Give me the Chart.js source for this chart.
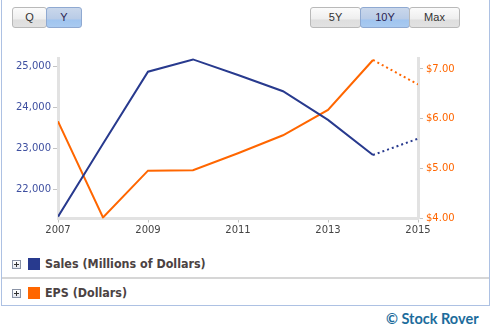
<!DOCTYPE html>
<html>
<head>
<meta charset="utf-8">
<script src="https://cdn.jsdelivr.net/npm/chart.js@4"></script>
<style>
  html, body { margin: 0; padding: 0; background: #fff; }
  body { width: 491px; height: 335px; position: relative; overflow: hidden; font-family: "DejaVu Sans", Verdana, sans-serif; }
  .panel { position: absolute; left: 1px; top: -1px; width: 487px; height: 306px; border: 1px solid #adc1e3; border-top: none; }
  #chart { position: absolute; left: 0; top: 0; }
  .btn { position: absolute; top: 7px; height: 21px; border: 1px solid #b9b9b9; border-radius: 3px; box-sizing: border-box;
         font: 11px "Liberation Sans", Arial, sans-serif; color: #333; text-align: center; line-height: 19px;
         background: linear-gradient(#fbfbfb 0%, #eeeeee 60%, #dedede 61%, #e2e2e2 100%); }
  .btn.on { border-color: #8fa9d1; background: linear-gradient(#c9d7eb 0%, #b8cbe6 60%, #9fc4ef 61%, #a9caf0 100%); color: #2a2250; }
  .row { position: absolute; left: 2px; width: 487px; height: 28px; }
  .sep { position: absolute; left: 2px; top: 277px; width: 487px; height: 2px; background: #d6d6d6; }
  .plus { position: absolute; left: 10px; top: 10px; width: 9px; height: 9px; box-sizing: border-box; border: 1px solid #8a93a6;
          background: linear-gradient(#ffffff, #e3e6ee); }
  .plus::before { content: ""; position: absolute; left: 1px; top: 3px; width: 5px; height: 1px; background: #333; }
  .plus::after { content: ""; position: absolute; left: 3px; top: 1px; width: 1px; height: 5px; background: #333; }
  .swatch { position: absolute; left: 26px; top: 8px; width: 12px; height: 12px; }
  .label { position: absolute; left: 43px; top: 6px; font: bold 12.4px "DejaVu Sans Condensed", "DejaVu Sans", sans-serif; color: #4b4242; white-space: nowrap; }
  .credit { position: absolute; left: 386px; top: 310px; font: bold 14.5px Lato, "Open Sans", sans-serif; color: #1c6c9c; white-space: nowrap; }
</style>
</head>
<body>
<div class="panel"></div>
<div class="btn" style="left:12px;width:35px">Q</div>
<div class="btn on" style="left:46px;width:36px">Y</div>
<div class="btn" style="left:310px;width:51px">5Y</div>
<div class="btn on" style="left:360px;width:50px">10Y</div>
<div class="btn" style="left:409px;width:51px">Max</div>

<canvas id="chart" width="491" height="245"></canvas>

<div class="row" style="top:250px"><div class="plus"></div><div class="swatch" style="background:#283a8e"></div><div class="label" id="lab-sales"></div></div>
<div class="sep"></div>
<div class="row" style="top:279px"><div class="plus"></div><div class="swatch" style="background:#ff6600"></div><div class="label" id="lab-eps"></div></div>
<div class="credit">© Stock Rover</div>

<script>
// annual figures, last year is an estimate (drawn dotted)
const years = [2007, 2008, 2009, 2010, 2011, 2012, 2013, 2014, 2015];
const sales = [21330, 23115, 24880, 25180, 24800, 24400, 23700, 22840, 23240];
const eps = [5.95, 4.02, 4.96, 4.97, 5.31, 5.67, 6.18, 7.18, 6.69];
const lastActualYear = 2014;

const salesTicks = [22000, 23000, 24000, 25000];
const epsTicks = [4, 5, 6, 7];
const yearTicks = [2007, 2009, 2011, 2013, 2015];

const seriesNames = ['Sales (Millions of Dollars)', 'EPS (Dollars)'];
const blue = '#283a8e';
const orange = '#ff6600';

document.getElementById('lab-sales').textContent = seriesNames[0];
document.getElementById('lab-eps').textContent = seriesNames[1];

const tickFont = { family: 'DejaVu Sans', size: 10 };
const axisBorder = { color: '#e2e2e2', width: 3 };

// dotted once the segment starts at the last reported year
const estimateDash = ctx => years[ctx.p0DataIndex] >= lastActualYear ? [2, 3] : undefined;

function points(values) {
    return years.map((y, i) => ({ x: y, y: values[i] }));
}

const ctx = document.getElementById('chart').getContext('2d');
const chart = new Chart(ctx, {
    type: 'line',
    data: {
        datasets: [
            {
                label: seriesNames[0],
                data: points(sales),
                yAxisID: 'ySales',
                borderColor: blue,
                borderWidth: 2,
                pointRadius: 0,
                tension: 0,
                segment: { borderDash: estimateDash }
            },
            {
                label: seriesNames[1],
                data: points(eps),
                yAxisID: 'yEps',
                borderColor: orange,
                borderWidth: 2,
                pointRadius: 0,
                tension: 0,
                segment: { borderDash: estimateDash }
            }
        ]
    },
    options: {
        responsive: false,
        animation: false,
        devicePixelRatio: 1,
        layout: { padding: { top: 58, left: 0, right: 0, bottom: 0 } },
        plugins: { legend: { display: false }, tooltip: { enabled: false } },
        scales: {
            x: {
                type: 'linear',
                min: 2007,
                max: 2015,
                afterBuildTicks: s => { s.ticks = yearTicks.map(v => ({ value: v })); },
                afterFit: s => { s.height = 26.5; },
                ticks: { callback: v => String(v), color: '#444', font: tickFont, padding: 2, maxRotation: 0 },
                grid: { drawOnChartArea: false, tickLength: 4, tickColor: '#c4c4c4' },
                border: axisBorder
            },
            ySales: {
                position: 'left',
                min: 21284,
                max: 25215,
                afterBuildTicks: s => { s.ticks = salesTicks.map(v => ({ value: v })); },
                afterFit: s => { s.width = 58; },
                ticks: { callback: v => v.toLocaleString('en-US'), color: '#3e4fa0', font: tickFont, padding: 2 },
                grid: { drawOnChartArea: false, tickLength: 5, tickColor: '#c4c4c4' },
                border: axisBorder
            },
            yEps: {
                position: 'right',
                min: 4,
                max: 7.22,
                afterBuildTicks: s => { s.ticks = epsTicks.map(v => ({ value: v })); },
                afterFit: s => { s.width = 73; },
                ticks: { callback: v => '$' + v.toFixed(2), color: orange, font: tickFont, padding: 3 },
                grid: { drawOnChartArea: false, tickLength: 5, tickColor: '#c4c4c4' },
                border: axisBorder
            }
        }
    }
});
</script>
</body>
</html>
